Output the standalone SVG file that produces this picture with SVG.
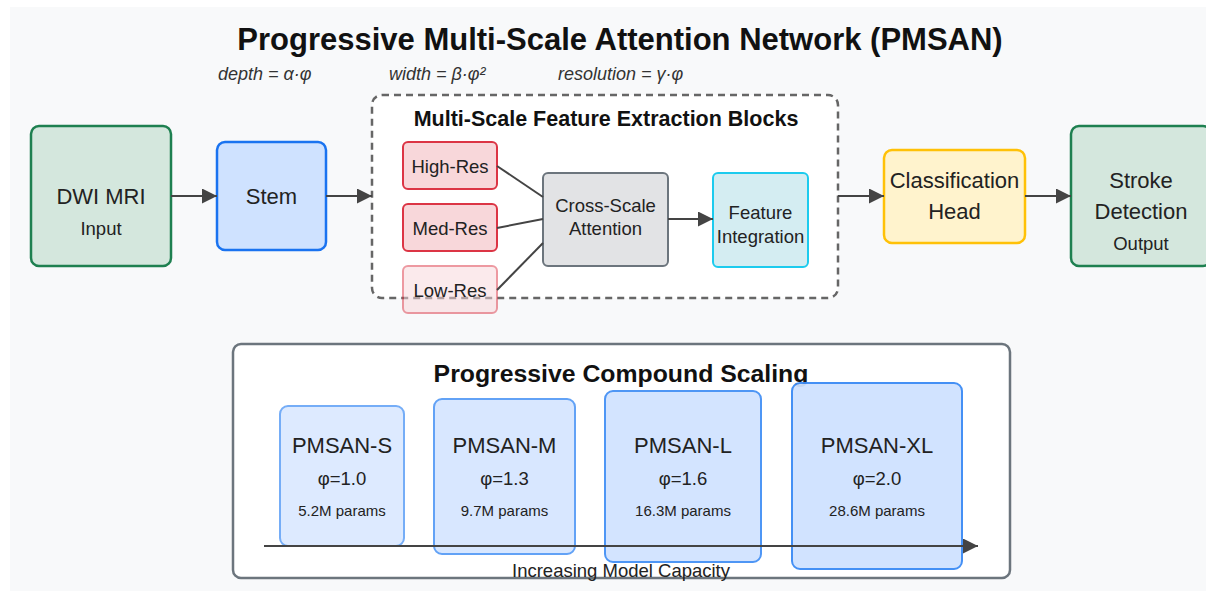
<svg xmlns="http://www.w3.org/2000/svg" width="1206" height="591" viewBox="0 0 1206 591">
<defs>
<marker id="arr" viewBox="0 0 10 10" refX="10" refY="5" markerWidth="7.5" markerHeight="7.5" markerUnits="strokeWidth" orient="auto"><path d="M0,0 L10,5 L0,10 z" fill="#444"/></marker>
<style>
text{font-family:"Liberation Sans",Arial,sans-serif;fill:#222;text-anchor:middle}
.t20{font-size:22px}
.t16{font-size:18.5px}
.t13{font-size:15px}
.b{font-weight:bold}
.it{font-style:italic;font-size:18px;text-anchor:start;fill:#333}
.conn{stroke:#444;stroke-width:2;fill:none}
.green{fill:#d4e7dd;stroke:#1e8050;stroke-width:2.5}
.blue{fill:#cfe2ff;stroke:#1a73f0;stroke-width:2.5}
.red{fill:#f8d7da;stroke:#dc3545;stroke-width:2}
.gray{fill:#e2e3e5;stroke:#6c757d;stroke-width:2}
.cyan{fill:#d4edf2;stroke:#1ccbee;stroke-width:2}
.yellow{fill:#fff3cd;stroke:#ffc107;stroke-width:2.5}
.scale{fill:#cfe2ff;stroke:#3b8bf5;stroke-width:2}
</style>
</defs>
<rect x="0" y="0" width="1206" height="591" fill="#ffffff"/>
<rect x="10" y="7" width="1200" height="590" fill="#f8f9fa"/>
<text x="620" y="50" class="b" style="font-size:31px;fill:#111">Progressive Multi-Scale Attention Network (PMSAN)</text>
<text x="218" y="80" class="it">depth = α·φ</text>
<text x="389" y="80" class="it">width = β·φ²</text>
<text x="558" y="80" class="it">resolution = γ·φ</text>

<g id="dwi"><rect x="31" y="126" width="140" height="140" rx="8" class="green"/><text x="101" y="204" class="t20">DWI MRI</text><text x="101" y="235" class="t16">Input</text></g>
<g id="stem"><rect x="217" y="142" width="109" height="108" rx="8" class="blue"/><text x="271.5" y="204" class="t20">Stem</text></g>
<g id="msfe"><rect x="372" y="95" width="466" height="203" rx="10" fill="#fff" stroke="#666" stroke-width="2.5" stroke-dasharray="7,5"/><text x="606" y="126" class="b" style="font-size:21.5px;fill:#111">Multi-Scale Feature Extraction Blocks</text></g>
<g id="high"><rect x="403" y="142" width="94" height="47" rx="5" class="red"/><text x="450" y="173" class="t16">High-Res</text></g>
<g id="med"><rect x="403" y="204" width="94" height="47" rx="5" class="red"/><text x="450" y="235" class="t16">Med-Res</text></g>
<g id="low"><rect x="403" y="266" width="94" height="47" rx="5" class="red" opacity="0.5"/><text x="450" y="297" class="t16">Low-Res</text></g>
<g id="cross"><rect x="543" y="173" width="125" height="93" rx="5" class="gray"/><text x="605.5" y="212" class="t16">Cross-Scale</text><text x="605.5" y="235" class="t16">Attention</text></g>
<g id="feat"><rect x="713" y="173" width="95" height="94" rx="5" class="cyan"/><text x="760.5" y="219" class="t16">Feature</text><text x="760.5" y="243" class="t16">Integration</text></g>
<g id="cls"><rect x="884" y="150" width="141" height="93" rx="8" class="yellow"/><text x="954.5" y="188" class="t20">Classification</text><text x="954.5" y="219" class="t20">Head</text></g>
<g id="out"><rect x="1071" y="126" width="140" height="140" rx="8" class="green"/><text x="1141" y="188" class="t20">Stroke</text><text x="1141" y="219" class="t20">Detection</text><text x="1141" y="250" class="t16">Output</text></g>

<g id="connectors">
<line x1="171" y1="196" x2="217" y2="196" class="conn" marker-end="url(#arr)"/>
<line x1="326" y1="196" x2="372" y2="196" class="conn" marker-end="url(#arr)"/>
<line x1="497" y1="166" x2="543" y2="197" class="conn"/>
<line x1="497" y1="228" x2="543" y2="219" class="conn"/>
<line x1="497" y1="290" x2="543" y2="243" class="conn"/>
<line x1="668" y1="219" x2="713" y2="219" class="conn" marker-end="url(#arr)"/>
<line x1="838" y1="196" x2="884" y2="196" class="conn" marker-end="url(#arr)"/>
<line x1="1025" y1="196" x2="1071" y2="196" class="conn" marker-end="url(#arr)"/>
</g>

<g id="scaling"><rect x="233" y="344" width="777" height="234" rx="8" fill="#fff" stroke="#6c757d" stroke-width="2.5"/><text x="621" y="382" class="b" style="font-size:24.8px;fill:#111">Progressive Compound Scaling</text></g>
<g id="pmsan-s"><rect x="280" y="406" width="124" height="140" rx="8" class="scale" opacity="0.7"/><text x="342" y="453" class="t20">PMSAN-S</text><text x="342" y="485" class="t16">φ=1.0</text><text x="342" y="516" class="t13">5.2M params</text></g>
<g id="pmsan-m"><rect x="434" y="399" width="141" height="155" rx="8" class="scale" opacity="0.8"/><text x="504.5" y="453" class="t20">PMSAN-M</text><text x="504.5" y="485" class="t16">φ=1.3</text><text x="504.5" y="516" class="t13">9.7M params</text></g>
<g id="pmsan-l"><rect x="605" y="391" width="156" height="171" rx="8" class="scale" opacity="0.9"/><text x="683" y="453" class="t20">PMSAN-L</text><text x="683" y="485" class="t16">φ=1.6</text><text x="683" y="516" class="t13">16.3M params</text></g>
<g id="pmsan-xl"><rect x="792" y="383" width="170" height="186" rx="8" class="scale" opacity="0.95"/><text x="877" y="453" class="t20">PMSAN-XL</text><text x="877" y="485" class="t16">φ=2.0</text><text x="877" y="516" class="t13">28.6M params</text></g>
<g id="capacity"><line x1="264" y1="546" x2="978" y2="546" class="conn" marker-end="url(#arr)"/><text x="621" y="577" class="t16">Increasing Model Capacity</text></g>
</svg>
